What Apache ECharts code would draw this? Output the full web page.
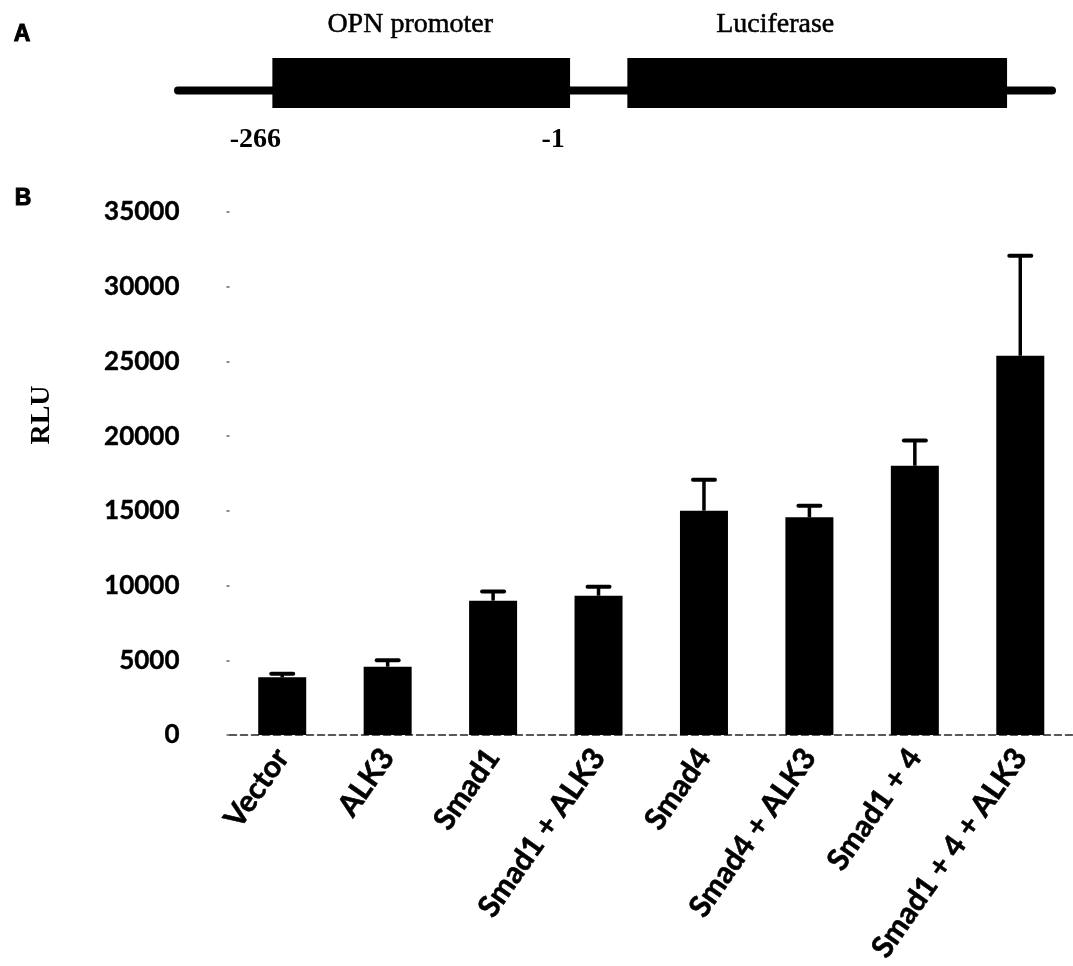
<!DOCTYPE html>
<html><head><meta charset="utf-8">
<script src="https://cdn.jsdelivr.net/npm/echarts@6/dist/echarts.min.js"></script>
<style>html,body{margin:0;padding:0;background:#fff}#c{width:1073px;height:966px}</style>
</head><body><div id="c"></div>
<script>
// ---- Panel B data ----
const categories = ['Vector', 'ALK3', 'Smad1', 'Smad1 + ALK3', 'Smad4', 'Smad4 + ALK3', 'Smad1 + 4', 'Smad1 + 4 + ALK3'];
const rluMean = [3860, 4570, 8990, 9320, 15010, 14570, 18020, 25380];
const rluError = [240, 430, 620, 600, 2080, 780, 1690, 6690];
const yTickLabels = ['0', '5000', '10000', '15000', '20000', '25000', '30000', '35000'];
// ---- Panel A data (construct schematic, bp relative to start site) ----
const diagramParts = ['OPN promoter', 'Luciferase'];
const partStart = [-266, 50];
const partEnd = [-1, 388];
const backboneSpan = [-350, 428];
const sitePositions = [-266, -1];
const siteLabels = ['-266', '-1'];

const chart = echarts.init(document.getElementById('c'), null, {renderer: 'canvas'});
const serif = '"Liberation Serif", "Times New Roman", serif';
const labelShiftX = [-11, -42];

const option = {
  backgroundColor: '#fff',
  animation: false,
  grid: [
    {left: 229.5, width: 856, top: 212, height: 523},
    {left: 178, width: 874, top: 58, height: 50}
  ],
  xAxis: [
    {
      type: 'category', gridIndex: 0, data: categories,
      axisLine: {show: true, lineStyle: {color: '#222', width: 1.5, type: [7, 4]}},
      axisTick: {show: false},
      axisLabel: {interval: 0, rotate: 55, margin: 17, color: '#000', fontFamily: 'Lato', fontWeight: 'bold', fontSize: 30,
        textBorderColor: '#000', textBorderWidth: 0.6}
    },
    {type: 'value', gridIndex: 1, min: backboneSpan[0], max: backboneSpan[1], show: false}
  ],
  yAxis: [
    {
      type: 'value', gridIndex: 0, min: 0, max: 35000, interval: 5000,
      axisLine: {show: false},
      axisTick: {show: true, length: 3, lineStyle: {color: '#666', width: 1.5}},
      splitLine: {show: false},
      axisLabel: {margin: 50, color: '#000', fontFamily: 'Lato', fontWeight: 'bold', fontSize: 26,
        textBorderColor: '#000', textBorderWidth: 0.4,
        formatter: (v) => yTickLabels[Math.round(v / 5000)]}
    },
    {type: 'value', gridIndex: 1, min: 0, max: 1, show: false}
  ],
  graphic: [
    {type: 'text', x: 22, y: 35, style: {text: 'A', font: '900 23px "Liberation Sans", Arial, sans-serif', fill: '#000', textAlign: 'center', textVerticalAlign: 'middle', stroke: '#000', lineWidth: 1}},
    {type: 'text', x: 23, y: 199, style: {text: 'B', font: '900 23px "Liberation Sans", Arial, sans-serif', fill: '#000', textAlign: 'center', textVerticalAlign: 'middle', stroke: '#000', lineWidth: 1}},
    {type: 'text', x: 42, y: 415, rotation: Math.PI / 2, style: {text: 'RLU', font: 'bold 28px ' + serif, fill: '#000', textAlign: 'center', textVerticalAlign: 'middle'}}
  ],
  series: [
    {
      type: 'bar', xAxisIndex: 0, yAxisIndex: 0, data: rluMean, barWidth: 48,
      itemStyle: {color: '#000'}, z: 3
    },
    {
      type: 'custom', xAxisIndex: 0, yAxisIndex: 0, z: 2,
      data: categories.map((c, i) => [i, rluMean[i], rluMean[i] + rluError[i]]),
      renderItem: (params, api) => {
        const bot = api.coord([api.value(0), api.value(1)]);
        const top = api.coord([api.value(0), api.value(2)]);
        const cw = 22;
        return {type: 'group', children: [
          {type: 'line', shape: {x1: top[0], y1: bot[1], x2: top[0], y2: top[1]}, style: {stroke: '#000', lineWidth: 3.5}},
          {type: 'line', shape: {x1: top[0] - cw / 2, y1: top[1], x2: top[0] + cw / 2, y2: top[1]}, style: {stroke: '#000', lineWidth: 4, lineCap: 'round'}}
        ]};
      }
    },
    {
      type: 'custom', xAxisIndex: 1, yAxisIndex: 1, z: 1,
      data: [[backboneSpan[0], backboneSpan[1]]],
      renderItem: (params, api) => {
        const a = api.coord([api.value(0), 0.35]);
        const b = api.coord([api.value(1), 0.35]);
        return {type: 'line', shape: {x1: a[0], y1: a[1], x2: b[0], y2: b[1]}, style: {stroke: '#000', lineWidth: 8, lineCap: 'round'}};
      }
    },
    {
      type: 'custom', xAxisIndex: 1, yAxisIndex: 1, z: 2,
      data: diagramParts.map((n, i) => [partStart[i], partEnd[i], i]),
      renderItem: (params, api) => {
        const tl = api.coord([api.value(0), 1]);
        const br = api.coord([api.value(1), 0]);
        const i = api.value(2);
        return {type: 'group', children: [
          {type: 'rect', shape: {x: tl[0], y: tl[1], width: br[0] - tl[0], height: br[1] - tl[1]}, style: {fill: '#000'}},
          {type: 'text', x: (tl[0] + br[0]) / 2 + labelShiftX[i], y: tl[1] - 33,
            style: {text: diagramParts[i], font: '28px ' + serif, fill: '#000', textAlign: 'center', textVerticalAlign: 'middle', stroke: '#000', lineWidth: 0.5}}
        ]};
      }
    },
    {
      type: 'custom', xAxisIndex: 1, yAxisIndex: 1, z: 2,
      data: sitePositions.map((p, i) => [p, i]),
      renderItem: (params, api) => {
        const p = api.coord([api.value(0), 0]);
        return {type: 'text', x: p[0] - 17, y: p[1] + 32,
          style: {text: siteLabels[api.value(1)], font: 'bold 28px ' + serif, fill: '#000', textAlign: 'center', textVerticalAlign: 'middle'}};
      }
    }
  ]
};
chart.setOption(option);
</script>
</body></html>
